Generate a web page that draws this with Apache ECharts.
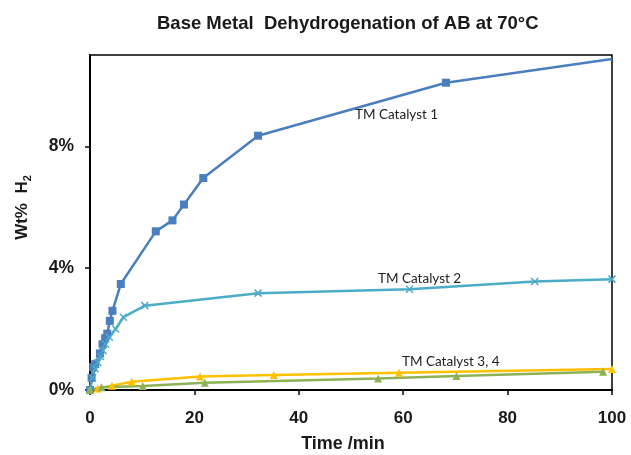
<!DOCTYPE html>
<html>
<head>
    <meta charset="utf-8">
    <title>Base Metal Dehydrogenation of AB at 70°C</title>
    <script src="https://cdn.jsdelivr.net/npm/echarts@6/dist/echarts.min.js"></script>
    <style type="text/css">
        html, body { margin: 0; padding: 0; background: #fff; }
        #chart { width: 631px; height: 455px; }
    </style>
</head>
<body>
    <div id="chart"></div>
    <script type="text/javascript">
        // time (min) / wt% H2 pairs
        var cat1 = [[0,0],[0.3,0.4],[0.6,0.75],[1.0,0.85],[1.9,1.2],[2.4,1.5],[2.9,1.7],[3.3,1.85],
            [3.8,2.27],[4.3,2.6],[5.9,3.48],[12.6,5.21],[15.8,5.57],[18.0,6.09],[21.7,6.96],
            [32.2,8.35],[68.2,10.09],[100,10.87]];
        var cat2 = [[0,0],[0.5,0.4],[1.0,0.7],[1.5,0.9],[2.0,1.1],[2.5,1.3],[3.0,1.5],[3.7,1.73],
            [4.9,2.0],[6.4,2.39],[10.5,2.77],[32.2,3.18],[61.2,3.31],[85.2,3.56],[100,3.64]];
        var cat3 = [[0,0],[1.5,0.05],[4.2,0.14],[8.0,0.27],[21.1,0.44],[35.2,0.49],[59.2,0.57],[100,0.69]];
        var cat4 = [[0,0],[2.2,0.09],[10.1,0.13],[22.0,0.24],[55.2,0.38],[70.2,0.46],[98.3,0.60]];
        var yTicks = [0, 4, 8];
        var seriesNames = ['TM Catalyst 1', 'TM Catalyst 2', 'TM Catalyst 3', 'TM Catalyst 4'];

        var chart = echarts.init(document.getElementById('chart'));
        var txt = '#1a1a1a';
        var xMark = 'path://M0,0L10,10M10,0L0,10';

        function line(name, data, color, symbol, size) {
            return {
                name: name,
                type: 'line',
                data: data,
                symbol: symbol,
                // the last point of catalyst 1 sits on the frame, no marker there
                symbolSize: function (v, p) { return p.dataIndex === data.length - 1 && name === seriesNames[0] ? 0 : size; },
                showAllSymbol: true,
                lineStyle: { color: color, width: 2.5 },
                itemStyle: { color: color, borderColor: color, borderWidth: symbol === xMark ? 1.5 : 0 },
                z: 3
            };
        }

        chart.setOption({
            animation: false,
            title: {
                text: 'Base Metal  Dehydrogenation of AB at 70°C',
                left: 152,
                top: 9,
                textStyle: { fontFamily: 'Liberation Sans', fontWeight: 'bold', fontSize: 18.5, color: txt }
            },
            grid: {
                left: 90, right: 19, top: 55, bottom: 65,
                outerBoundsMode: 'none',
                containLabel: false,
                show: true, borderColor: '#000', borderWidth: 1.5
            },
            xAxis: {
                type: 'value',
                min: 0, max: 100, interval: 20,
                name: 'Time /min',
                nameLocation: 'middle',
                nameGap: 45,
                nameTextStyle: { fontFamily: 'Liberation Sans', fontWeight: 'bold', fontSize: 18, color: txt, padding: [0, 16, 0, 0] },
                axisLine: { lineStyle: { color: '#000', width: 2 } },
                axisTick: { show: true, inside: false, length: 5, lineStyle: { color: '#000', width: 1.5 } },
                axisLabel: { margin: 20, fontFamily: 'Liberation Sans', fontWeight: 'bold', fontSize: 17, color: txt },
                splitLine: { show: false }
            },
            yAxis: {
                type: 'value',
                min: 0, max: 11,
                name: 'Wt%  H{sub|2}',
                nameLocation: 'middle',
                nameGap: 57,
                nameRotate: 90,
                nameTextStyle: {
                    fontFamily: 'Liberation Sans', fontWeight: 'bold', fontSize: 17, color: txt,
                    padding: [0, 0, 0, 30],
                    rich: { sub: { fontFamily: 'Liberation Sans', fontWeight: 'bold', fontSize: 11, color: txt, padding: [10, 0, 0, 0] } }
                },
                axisLine: { show: true, lineStyle: { color: '#000', width: 2 } },
                axisTick: { show: true, length: 5, customValues: yTicks, lineStyle: { color: '#000', width: 1.5 } },
                axisLabel: {
                    customValues: yTicks,
                    margin: 16,
                    formatter: function (v) { return v + '%'; },
                    fontFamily: 'Liberation Sans', fontWeight: 'bold', fontSize: 17.5, color: txt
                },
                splitLine: { show: false }
            },
            series: [
                line(seriesNames[0], cat1, '#4A7EBF', 'rect', 8),
                line(seriesNames[1], cat2, '#4BACC6', xMark, 7),
                line(seriesNames[2], cat3, '#FFC000', 'triangle', 8),
                line(seriesNames[3], cat4, '#8DB255', 'triangle', 8)
            ],
            graphic: [
                { type: 'text', left: 355, top: 108, style: { text: 'TM Catalyst 1', font: '13.5px Lato', fill: '#222' } },
                { type: 'text', left: 378, top: 272, style: { text: 'TM Catalyst 2', font: '13.5px Lato', fill: '#222' } },
                { type: 'text', left: 402, top: 355, style: { text: 'TM Catalyst 3, 4', font: '13.5px Lato', fill: '#222' } }
            ]
        });
    </script>
</body>
</html>
